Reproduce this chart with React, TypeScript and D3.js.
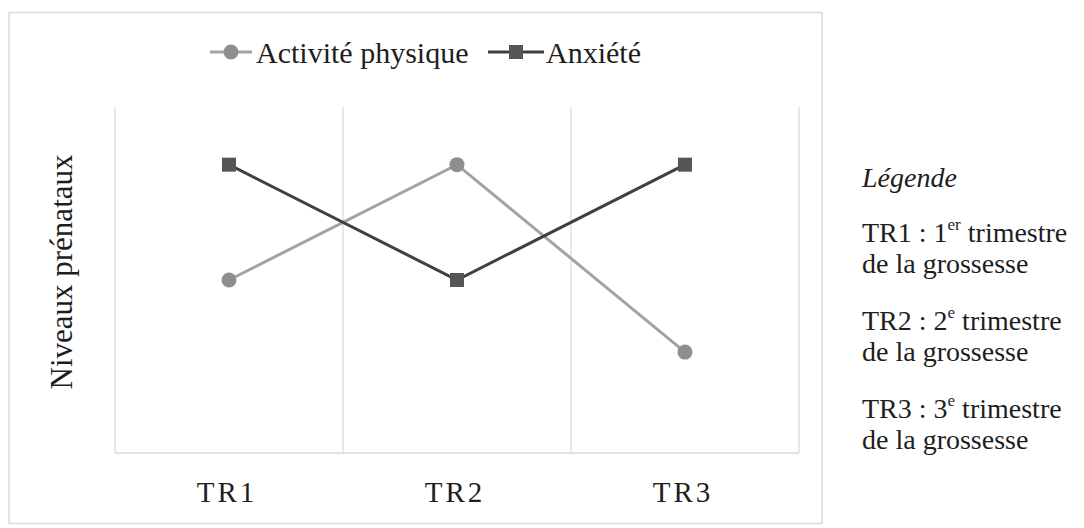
import React from "react";
import * as d3 from "d3";

// Trimesters on the x axis
const categories = ["TR1", "TR2", "TR3"];
// Prenatal levels per trimester
const activiteValues = [3, 5, 1.75];
const anxieteValues = [5, 3, 5];
const seriesNames = ["Activité physique", "Anxiété"];
const yDomain = [0, 6];

const W = 1084;
const H = 528;
const FONT = "'Liberation Serif', 'Times New Roman', serif";

const plot = { left: 115, right: 799, top: 107, bottom: 453 };

const ACT_LINE = "#a3a3a3";
const ACT_MARK = "#8e8e8e";
const ANX_LINE = "#404040";
const ANX_MARK = "#555555";
const GRID = "#d9d9d9";
const TEXT = "#1e1e1e";

export default function App() {
  const x = d3.scaleBand<string>().domain(categories).range([plot.left, plot.right]).padding(0);
  const y = d3.scaleLinear().domain(yDomain).range([plot.bottom, plot.top]);
  const cx = (c: string) => (x(c) as number) + x.bandwidth() / 2;

  const line = d3
    .line<number>()
    .x((_, i) => cx(categories[i]))
    .y((d) => y(d));

  const boundaries = categories.map((c) => (x(c) as number) + x.bandwidth());

  const legendY = 52;
  const sq = 14;

  return (
    <svg width={W} height={H} style={{ position: "absolute", left: 0, top: 0 }} fontFamily={FONT}>
      <rect x={0} y={0} width={W} height={H} fill="#ffffff" />
      {/* chart frame */}
      <rect x={9} y={12.5} width={813} height={511} fill="#ffffff" stroke={GRID} strokeWidth={1.5} />

      {/* plot frame and category separators */}
      <line x1={plot.left} y1={plot.top} x2={plot.left} y2={plot.bottom} stroke={GRID} strokeWidth={1.2} />
      <line x1={plot.left} y1={plot.bottom} x2={plot.right} y2={plot.bottom} stroke={GRID} strokeWidth={1.5} />
      {boundaries.map((b, i) => (
        <line key={i} x1={b} y1={plot.top} x2={b} y2={plot.bottom} stroke={GRID} strokeWidth={1.2} />
      ))}

      {/* series lines */}
      <path d={line(activiteValues) || ""} fill="none" stroke={ACT_LINE} strokeWidth={3} />
      <path d={line(anxieteValues) || ""} fill="none" stroke={ANX_LINE} strokeWidth={3} />

      {activiteValues.map((v, i) => (
        <circle key={"a" + i} cx={cx(categories[i])} cy={y(v)} r={7.5} fill={ACT_MARK} />
      ))}
      {anxieteValues.map((v, i) => (
        <rect
          key={"x" + i}
          x={cx(categories[i]) - sq / 2}
          y={y(v) - sq / 2}
          width={sq}
          height={sq}
          fill={ANX_MARK}
        />
      ))}

      {/* x axis labels */}
      {categories.map((c) => (
        <text
          key={c}
          x={cx(c) - 2}
          y={502}
          textAnchor="middle"
          fontSize={29}
          letterSpacing={3}
          fill={TEXT}
        >
          {c}
        </text>
      ))}

      {/* y axis title */}
      <text
        transform={`translate(72, ${(plot.top + plot.bottom) / 2 - 8}) rotate(-90)`}
        textAnchor="middle"
        fontSize={31}
        fill={TEXT}
      >
        Niveaux prénataux
      </text>

      {/* series legend */}
      <g>
        <line x1={210} y1={legendY} x2={252} y2={legendY} stroke={ACT_LINE} strokeWidth={3} />
        <circle cx={231} cy={legendY} r={7.5} fill={ACT_MARK} />
        <text x={256} y={legendY + 11} fontSize={30} fill={TEXT}>
          {seriesNames[0]}
        </text>
        <line x1={488} y1={legendY} x2={544} y2={legendY} stroke={ANX_LINE} strokeWidth={3} />
        <rect x={516 - sq / 2} y={legendY - sq / 2} width={sq} height={sq} fill={ANX_MARK} />
        <text x={546} y={legendY + 11} fontSize={30} fill={TEXT}>
          {seriesNames[1]}
        </text>
      </g>

      {/* trimester key */}
      <g fontSize={28} fill={TEXT}>
        <text x={862} y={187} fontStyle="italic">Légende</text>
        <text x={862} y={242}>
          TR1 : 1<tspan fontSize={17} dy={-12}>er</tspan>
          <tspan dy={12}> trimestre</tspan>
        </text>
        <text x={862} y={273}>de la grossesse</text>
        <text x={862} y={330}>
          TR2 : 2<tspan fontSize={17} dy={-12}>e</tspan>
          <tspan dy={12}> trimestre</tspan>
        </text>
        <text x={862} y={361}>de la grossesse</text>
        <text x={862} y={418}>
          TR3 : 3<tspan fontSize={17} dy={-12}>e</tspan>
          <tspan dy={12}> trimestre</tspan>
        </text>
        <text x={862} y={449}>de la grossesse</text>
      </g>
    </svg>
  );
}
